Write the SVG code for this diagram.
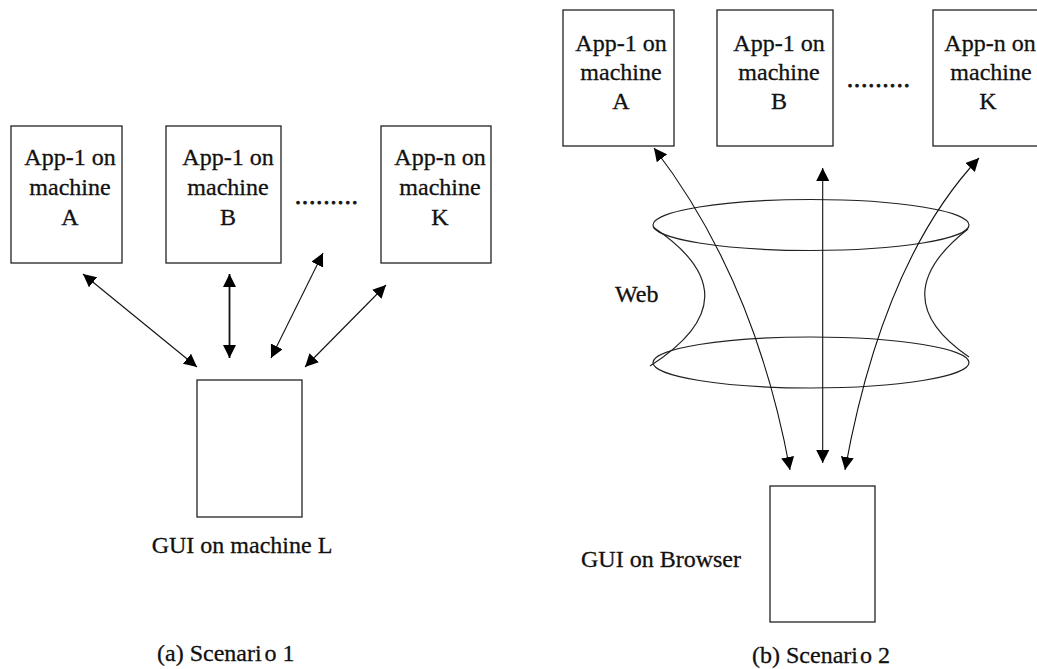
<svg xmlns="http://www.w3.org/2000/svg" width="1037" height="669" viewBox="0 0 1037 669">
  <style>
    .box { fill: #fff; stroke: #222; stroke-width: 1.3; }
    .lbl { font-family: "Liberation Serif", "Times New Roman", serif; font-size: 24px; fill: #111; stroke: #111; stroke-width: 0.3; }
    .mid { text-anchor: middle; }
    .dots { letter-spacing: 1.1px; stroke-width: 0.8; }
    .link { fill: none; stroke: #111; stroke-width: 1.1; }
    .link.bold { stroke-width: 1.8; }
    .web { fill: none; stroke: #222; stroke-width: 1.2; }
  </style>
  <defs>
    <marker id="head" viewBox="0 0 12 12" refX="12" refY="6" markerWidth="13" markerHeight="13" markerUnits="userSpaceOnUse" orient="auto-start-reverse">
      <path d="M0,0 L12,6 L0,12 Z" fill="#000"/>
    </marker>
  </defs>

  <!-- Scenario 1: standalone GUI talking to each application machine -->
  <g id="s1-app-a">
    <rect class="box" x="11" y="126" width="111" height="137"/>
    <text class="lbl mid" x="70" y="165">App-1 on</text>
    <text class="lbl mid" x="70" y="195">machine</text>
    <text class="lbl mid" x="70" y="225">A</text>
  </g>
  <g id="s1-app-b">
    <rect class="box" x="166" y="126" width="115" height="137"/>
    <text class="lbl mid" x="228" y="165">App-1 on</text>
    <text class="lbl mid" x="228" y="195">machine</text>
    <text class="lbl mid" x="228" y="225">B</text>
  </g>
  <g id="s1-dots">
    <text class="lbl dots" x="295" y="204">.........</text>
  </g>
  <g id="s1-app-k">
    <rect class="box" x="381" y="126" width="110" height="137"/>
    <text class="lbl mid" x="440" y="165">App-n on</text>
    <text class="lbl mid" x="440" y="195">machine</text>
    <text class="lbl mid" x="440" y="225">K</text>
  </g>
  <g id="s1-gui">
    <rect class="box" x="197" y="380" width="105" height="137"/>
    <text class="lbl mid" x="242" y="553">GUI on machine L</text>
  </g>
  <g id="s1-caption">
    <text class="lbl" x="157" y="661">(a) Scenari<tspan dx="3">o</tspan> 1</text>
  </g>

  <g id="s1-links">
    <line class="link" x1="83" y1="274" x2="197" y2="367" marker-start="url(#head)" marker-end="url(#head)"/>
    <line class="link bold" x1="229.5" y1="274" x2="229.5" y2="358" marker-start="url(#head)" marker-end="url(#head)"/>
    <line class="link" x1="323" y1="253" x2="271" y2="358" marker-start="url(#head)" marker-end="url(#head)"/>
    <line class="link" x1="386" y1="285" x2="305" y2="367" marker-start="url(#head)" marker-end="url(#head)"/>
  </g>

  <!-- Scenario 2: browser GUI reaching the machines through the web -->
  <g id="s2-app-a">
    <rect class="box" x="563" y="10" width="111" height="136"/>
    <text class="lbl mid" x="621" y="51">App-1 on</text>
    <text class="lbl mid" x="621" y="80">machine</text>
    <text class="lbl mid" x="621" y="109">A</text>
  </g>
  <g id="s2-app-b">
    <rect class="box" x="717" y="10" width="116" height="136"/>
    <text class="lbl mid" x="779" y="51">App-1 on</text>
    <text class="lbl mid" x="779" y="80">machine</text>
    <text class="lbl mid" x="779" y="109">B</text>
  </g>
  <g id="s2-dots">
    <text class="lbl dots" x="847" y="87">.........</text>
  </g>
  <g id="s2-app-k">
    <rect class="box" x="933" y="10" width="112" height="136"/>
    <text class="lbl mid" x="990" y="51">App-n on</text>
    <text class="lbl mid" x="991" y="80">machine</text>
    <text class="lbl mid" x="988" y="109">K</text>
  </g>
  <g id="s2-web">
    <ellipse class="web" cx="811" cy="225" rx="158" ry="25.5"/>
    <ellipse class="web" cx="811" cy="362.5" rx="158" ry="25.5"/>
    <path class="web" d="M653,227 Q758,297 650,366"/>
    <path class="web" d="M968,229 Q881,297 969,357"/>
    <text class="lbl" x="615" y="302">Web</text>
  </g>
  <g id="s2-gui">
    <rect class="box" x="770" y="486" width="105" height="136"/>
    <text class="lbl" x="581" y="567">GUI on Browser</text>
  </g>
  <g id="s2-caption">
    <text class="lbl" x="752" y="663">(b) Scenari<tspan dx="2">o</tspan> 2</text>
  </g>

  <g id="s2-links">
    <path class="link" d="M654,148 Q755,279 790,470" marker-start="url(#head)" marker-end="url(#head)"/>
    <line class="link" x1="822.7" y1="168" x2="822.7" y2="463" marker-start="url(#head)" marker-end="url(#head)"/>
    <path class="link" d="M979,158 Q883,260 845,470" marker-start="url(#head)" marker-end="url(#head)"/>
  </g>
</svg>
